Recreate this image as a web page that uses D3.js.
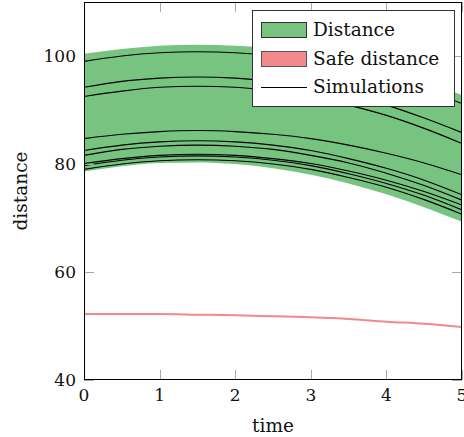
<!DOCTYPE html>
<html>
<head>
<meta charset="utf-8">
<script src="https://cdn.jsdelivr.net/npm/d3@7"></script>
<style>
  html, body { margin: 0; padding: 0; background: #fff; }
  svg { display: block; }
  text { font-family: "DejaVu Serif", serif; fill: #111; }
</style>
</head>
<body>
<div id="chart"></div>
<script>
(function () {
  "use strict";

  const WIDTH = 464;
  const HEIGHT = 437;
  const PLOT = { left: 84, right: 462, top: 2, bottom: 380 };

  // time samples
  const times = [0, 0.5, 1, 1.5, 2, 2.5, 3, 3.5, 4, 4.5, 5];

  // Distance band (upper / lower bound)
  const distanceUpper = [100.4, 101.3, 101.9, 102.1, 101.9, 101.4, 100.4, 99.1, 97.4, 95.3, 92.8];
  const distanceLower = [78.6, 79.6, 80.2, 80.3, 80.0, 79.2, 78.0, 76.4, 74.4, 72.0, 69.3];

  // Safe distance
  const safeDistance = [52.2, 52.2, 52.2, 52.1, 52.0, 51.8, 51.6, 51.3, 50.8, 50.4, 49.8];

  // Simulation runs
  const simulations = [
    [99.0, 100.0, 100.6, 100.8, 100.6, 100.0, 99.0, 97.7, 95.9, 93.8, 91.2],
    [94.2, 95.3, 95.9, 96.1, 95.9, 95.3, 94.2, 92.7, 90.9, 88.5, 85.8],
    [92.5, 93.5, 94.2, 94.4, 94.2, 93.5, 92.5, 90.9, 89.0, 86.6, 83.8],
    [84.7, 85.5, 86.0, 86.2, 86.0, 85.5, 84.7, 83.5, 82.0, 80.2, 78.0],
    [82.5, 83.5, 84.1, 84.3, 84.1, 83.5, 82.5, 81.0, 79.2, 77.0, 74.3],
    [81.6, 82.7, 83.3, 83.5, 83.3, 82.7, 81.6, 80.2, 78.3, 76.0, 73.3],
    [80.1, 81.0, 81.6, 81.8, 81.6, 81.0, 80.1, 78.7, 77.0, 74.9, 72.4],
    [79.7, 80.7, 81.3, 81.5, 81.3, 80.7, 79.7, 78.2, 76.4, 74.2, 71.5],
    [79.0, 80.0, 80.6, 80.8, 80.6, 80.0, 79.0, 77.5, 75.7, 73.4, 70.7]
  ];

  const xTicks = [0, 1, 2, 3, 4, 5];
  const yTicks = [40, 60, 80, 100];
  const legendLabels = ["Distance", "Safe distance", "Simulations"];

  const GREEN = "#76c47f";
  const RED = "#f2898c";
  const TICK_LEN = 10;

  const svg = d3.select("#chart")
    .append("svg")
    .attr("width", WIDTH)
    .attr("height", HEIGHT);

  const x = d3.scaleLinear().domain([0, 5]).range([PLOT.left, PLOT.right]);
  const y = d3.scaleLinear().domain([40, 110]).range([PLOT.bottom, PLOT.top]);

  svg.append("clipPath").attr("id", "plot-clip")
    .append("rect")
    .attr("x", PLOT.left).attr("y", PLOT.top)
    .attr("width", PLOT.right - PLOT.left)
    .attr("height", PLOT.bottom - PLOT.top);

  const plot = svg.append("g").attr("clip-path", "url(#plot-clip)");

  // Distance band
  const band = d3.area()
    .x((d, i) => x(times[i]))
    .y0((d, i) => y(distanceLower[i]))
    .y1((d, i) => y(distanceUpper[i]))
    .curve(d3.curveMonotoneX);

  plot.append("path")
    .datum(times)
    .attr("d", band)
    .attr("fill", GREEN);

  // Safe distance
  const line = d3.line()
    .x((d, i) => x(times[i]))
    .y(d => y(d))
    .curve(d3.curveMonotoneX);

  plot.append("path")
    .datum(safeDistance)
    .attr("d", line)
    .attr("fill", "none")
    .attr("stroke", RED)
    .attr("stroke-width", 2);

  // Simulations
  plot.append("g")
    .selectAll("path")
    .data(simulations)
    .enter()
    .append("path")
    .attr("d", line)
    .attr("fill", "none")
    .attr("stroke", "#000")
    .attr("stroke-width", 1.1);

  // Ticks (inward, on all four sides)
  const ticks = svg.append("g")
    .attr("stroke", "#a8a8a8")
    .attr("stroke-width", 1);

  xTicks.forEach(t => {
    const px = Math.round(x(t)) + 0.5;
    ticks.append("line").attr("x1", px).attr("x2", px)
      .attr("y1", PLOT.bottom).attr("y2", PLOT.bottom - TICK_LEN);
    ticks.append("line").attr("x1", px).attr("x2", px)
      .attr("y1", PLOT.top).attr("y2", PLOT.top + TICK_LEN);
  });
  yTicks.forEach(t => {
    const py = Math.round(y(t)) + 0.5;
    ticks.append("line").attr("y1", py).attr("y2", py)
      .attr("x1", PLOT.left).attr("x2", PLOT.left + TICK_LEN);
    ticks.append("line").attr("y1", py).attr("y2", py)
      .attr("x1", PLOT.right).attr("x2", PLOT.right - TICK_LEN);
  });

  // Frame
  svg.append("rect")
    .attr("x", PLOT.left + 0.5)
    .attr("y", PLOT.top + 0.5)
    .attr("width", PLOT.right - PLOT.left - 1)
    .attr("height", PLOT.bottom - PLOT.top - 1)
    .attr("fill", "none")
    .attr("stroke", "#000")
    .attr("stroke-width", 1);

  // Tick labels
  svg.append("g")
    .selectAll("text")
    .data(xTicks)
    .enter()
    .append("text")
    .attr("x", d => x(d))
    .attr("y", 401)
    .attr("text-anchor", "middle")
    .attr("font-size", "17px")
    .text(d => d);

  svg.append("g")
    .selectAll("text")
    .data(yTicks)
    .enter()
    .append("text")
    .attr("x", 76)
    .attr("y", d => y(d))
    .attr("dy", "0.36em")
    .attr("text-anchor", "end")
    .attr("font-size", "17px")
    .text(d => d);

  // Axis labels
  svg.append("text")
    .attr("x", x(2.5))
    .attr("y", 432)
    .attr("text-anchor", "middle")
    .attr("font-size", "18.5px")
    .text("time");

  svg.append("text")
    .attr("transform", `translate(27, ${(PLOT.top + PLOT.bottom) / 2}) rotate(-90)`)
    .attr("text-anchor", "middle")
    .attr("font-size", "18.5px")
    .text("distance");

  // Legend
  const legend = svg.append("g");
  legend.append("rect")
    .attr("x", 252.5).attr("y", 10.5)
    .attr("width", 202).attr("height", 96)
    .attr("fill", "#fff")
    .attr("stroke", "#333")
    .attr("stroke-width", 1);

  legend.append("rect")
    .attr("x", 261.5).attr("y", 22.5)
    .attr("width", 45).attr("height", 15)
    .attr("fill", GREEN).attr("stroke", "#333");

  legend.append("rect")
    .attr("x", 261.5).attr("y", 51.5)
    .attr("width", 45).attr("height", 15)
    .attr("fill", RED).attr("stroke", "#555");

  legend.append("line")
    .attr("x1", 261).attr("x2", 307)
    .attr("y1", 87.5).attr("y2", 87.5)
    .attr("stroke", "#000").attr("stroke-width", 1.1);

  legend.selectAll("text.lbl")
    .data(legendLabels)
    .enter()
    .append("text")
    .attr("class", "lbl")
    .attr("x", 313)
    .attr("y", (d, i) => [35.5, 64.5, 93][i])
    .attr("font-size", "18.5px")
    .text(d => d);
})();
</script>
</body>
</html>
